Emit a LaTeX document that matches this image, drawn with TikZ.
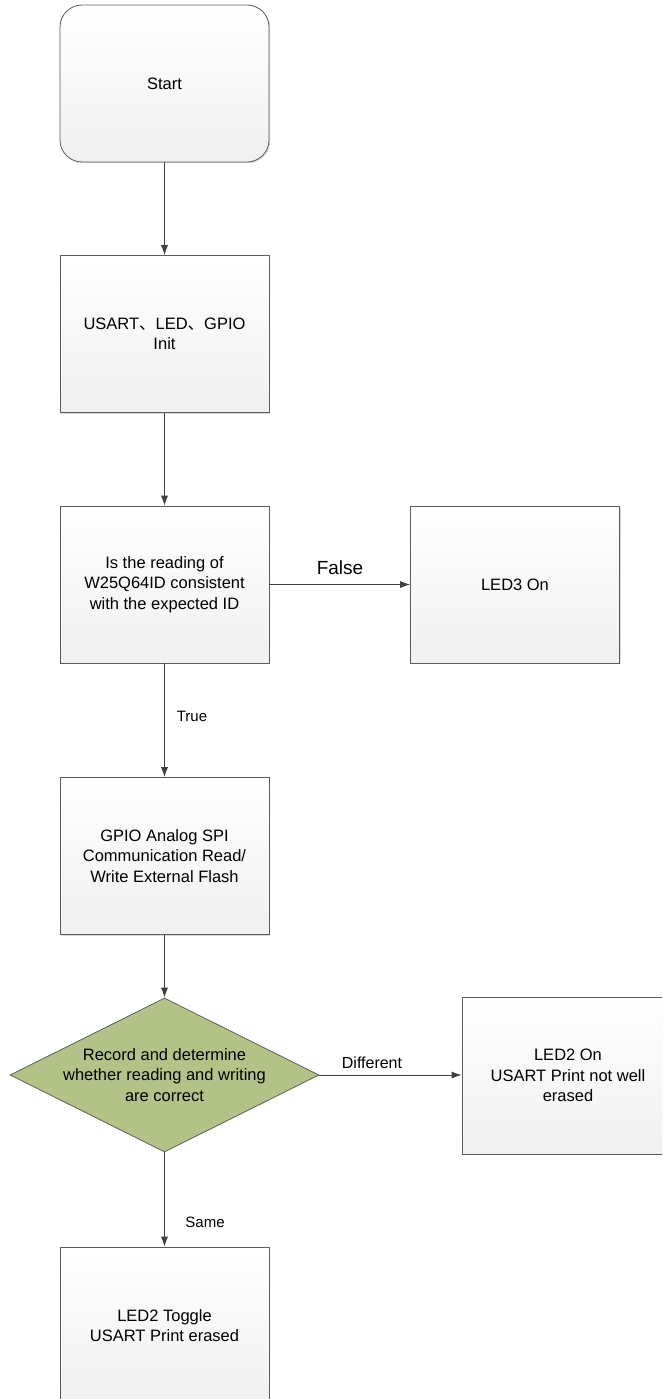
\documentclass[tikz,border=0pt]{standalone}
\usepackage{fontspec}
\setmainfont{Liberation Sans}
\newfontfamily\cjk{Noto Sans CJK SC}
\usetikzlibrary{arrows.meta,shapes.geometric,shadows}
\definecolor{boxline}{HTML}{5C5C5C}
\definecolor{arrline}{HTML}{404040}
\definecolor{decgreen}{HTML}{B3C387}
\tikzset{
  boxshadow/.style={drop shadow={shadow xshift=1.2pt,shadow yshift=-1.2pt,opacity=0.3,fill=gray}},
  proc/.style={draw=boxline,line width=0.8pt,top color=white,bottom color=gray!12,
    minimum width=209pt,minimum height=157pt,inner sep=0pt,align=center,
    font=\fontsize{16.5}{20.5}\selectfont,boxshadow},
  term/.style={proc,rounded corners=22pt},
  decide/.style={diamond,draw=boxline,line width=0.8pt,fill=decgreen,aspect=2,
    inner xsep=-4pt,inner ysep=0pt,minimum width=309pt,minimum height=154pt,
    align=center,font=\fontsize{16.5}{20.5}\selectfont},
  lbl/.style={font=\fontsize{15}{18}\selectfont,inner sep=0pt},
  arr/.style={draw=arrline,line width=0.8pt,-{Latex[length=10pt,width=7pt]}}
}
\begin{document}
\begin{tikzpicture}[x=1pt,y=-1pt]
\clip (0,0) rectangle (662,1399);
\fill[white] (0,0) rectangle (662,1399);
% main column
\node[term] (start) at (164.5,83.5) {Start};
\node[proc] (init) at (164.5,334) {USART{\cjk 、}LED{\cjk 、}GPIO\\Init};
\node[proc] (check) at (164.5,584.5) {Is the reading of\\W25Q64ID consistent\\with the expected ID};
\node[proc] (spi) at (164.5,856) {GPIO Analog SPI\\Communication Read/\\Write External Flash};
\node[decide] (cmp) at (164.5,1075) {Record and determine\\whether reading and writing\\are correct};
\node[proc] (toggle) at (164.5,1325.5) {LED2 Toggle\\USART Print erased};
% side branches
\node[proc] (ledthree) at (515,584.5) {LED3 On};
\node[proc,minimum width=212pt] (ledtwo) at (568,1075.5) {LED2 On\\USART Print not well\\erased};
% labels
\node[lbl,font=\fontsize{19}{22}\selectfont] (lfalse) at (340,568) {False};
\node[lbl] (ltrue) at (192,716) {True};
\node[lbl,font=\fontsize{16}{19}\selectfont] (ldiff) at (372,1063) {Different};
\node[lbl] (lsame) at (205,1222) {Same};
% connectors
\draw[arr] (start) -- (init);
\draw[arr] (init) -- (check);
\draw[arr] (check) -- (ledthree);
\draw[arr] (check) -- (spi);
\draw[arr] (spi) -- (cmp);
\draw[arr] (cmp.east) -- (cmp.east -| ledtwo.west);
\draw[arr] (cmp) -- (toggle);
\end{tikzpicture}
\end{document}
